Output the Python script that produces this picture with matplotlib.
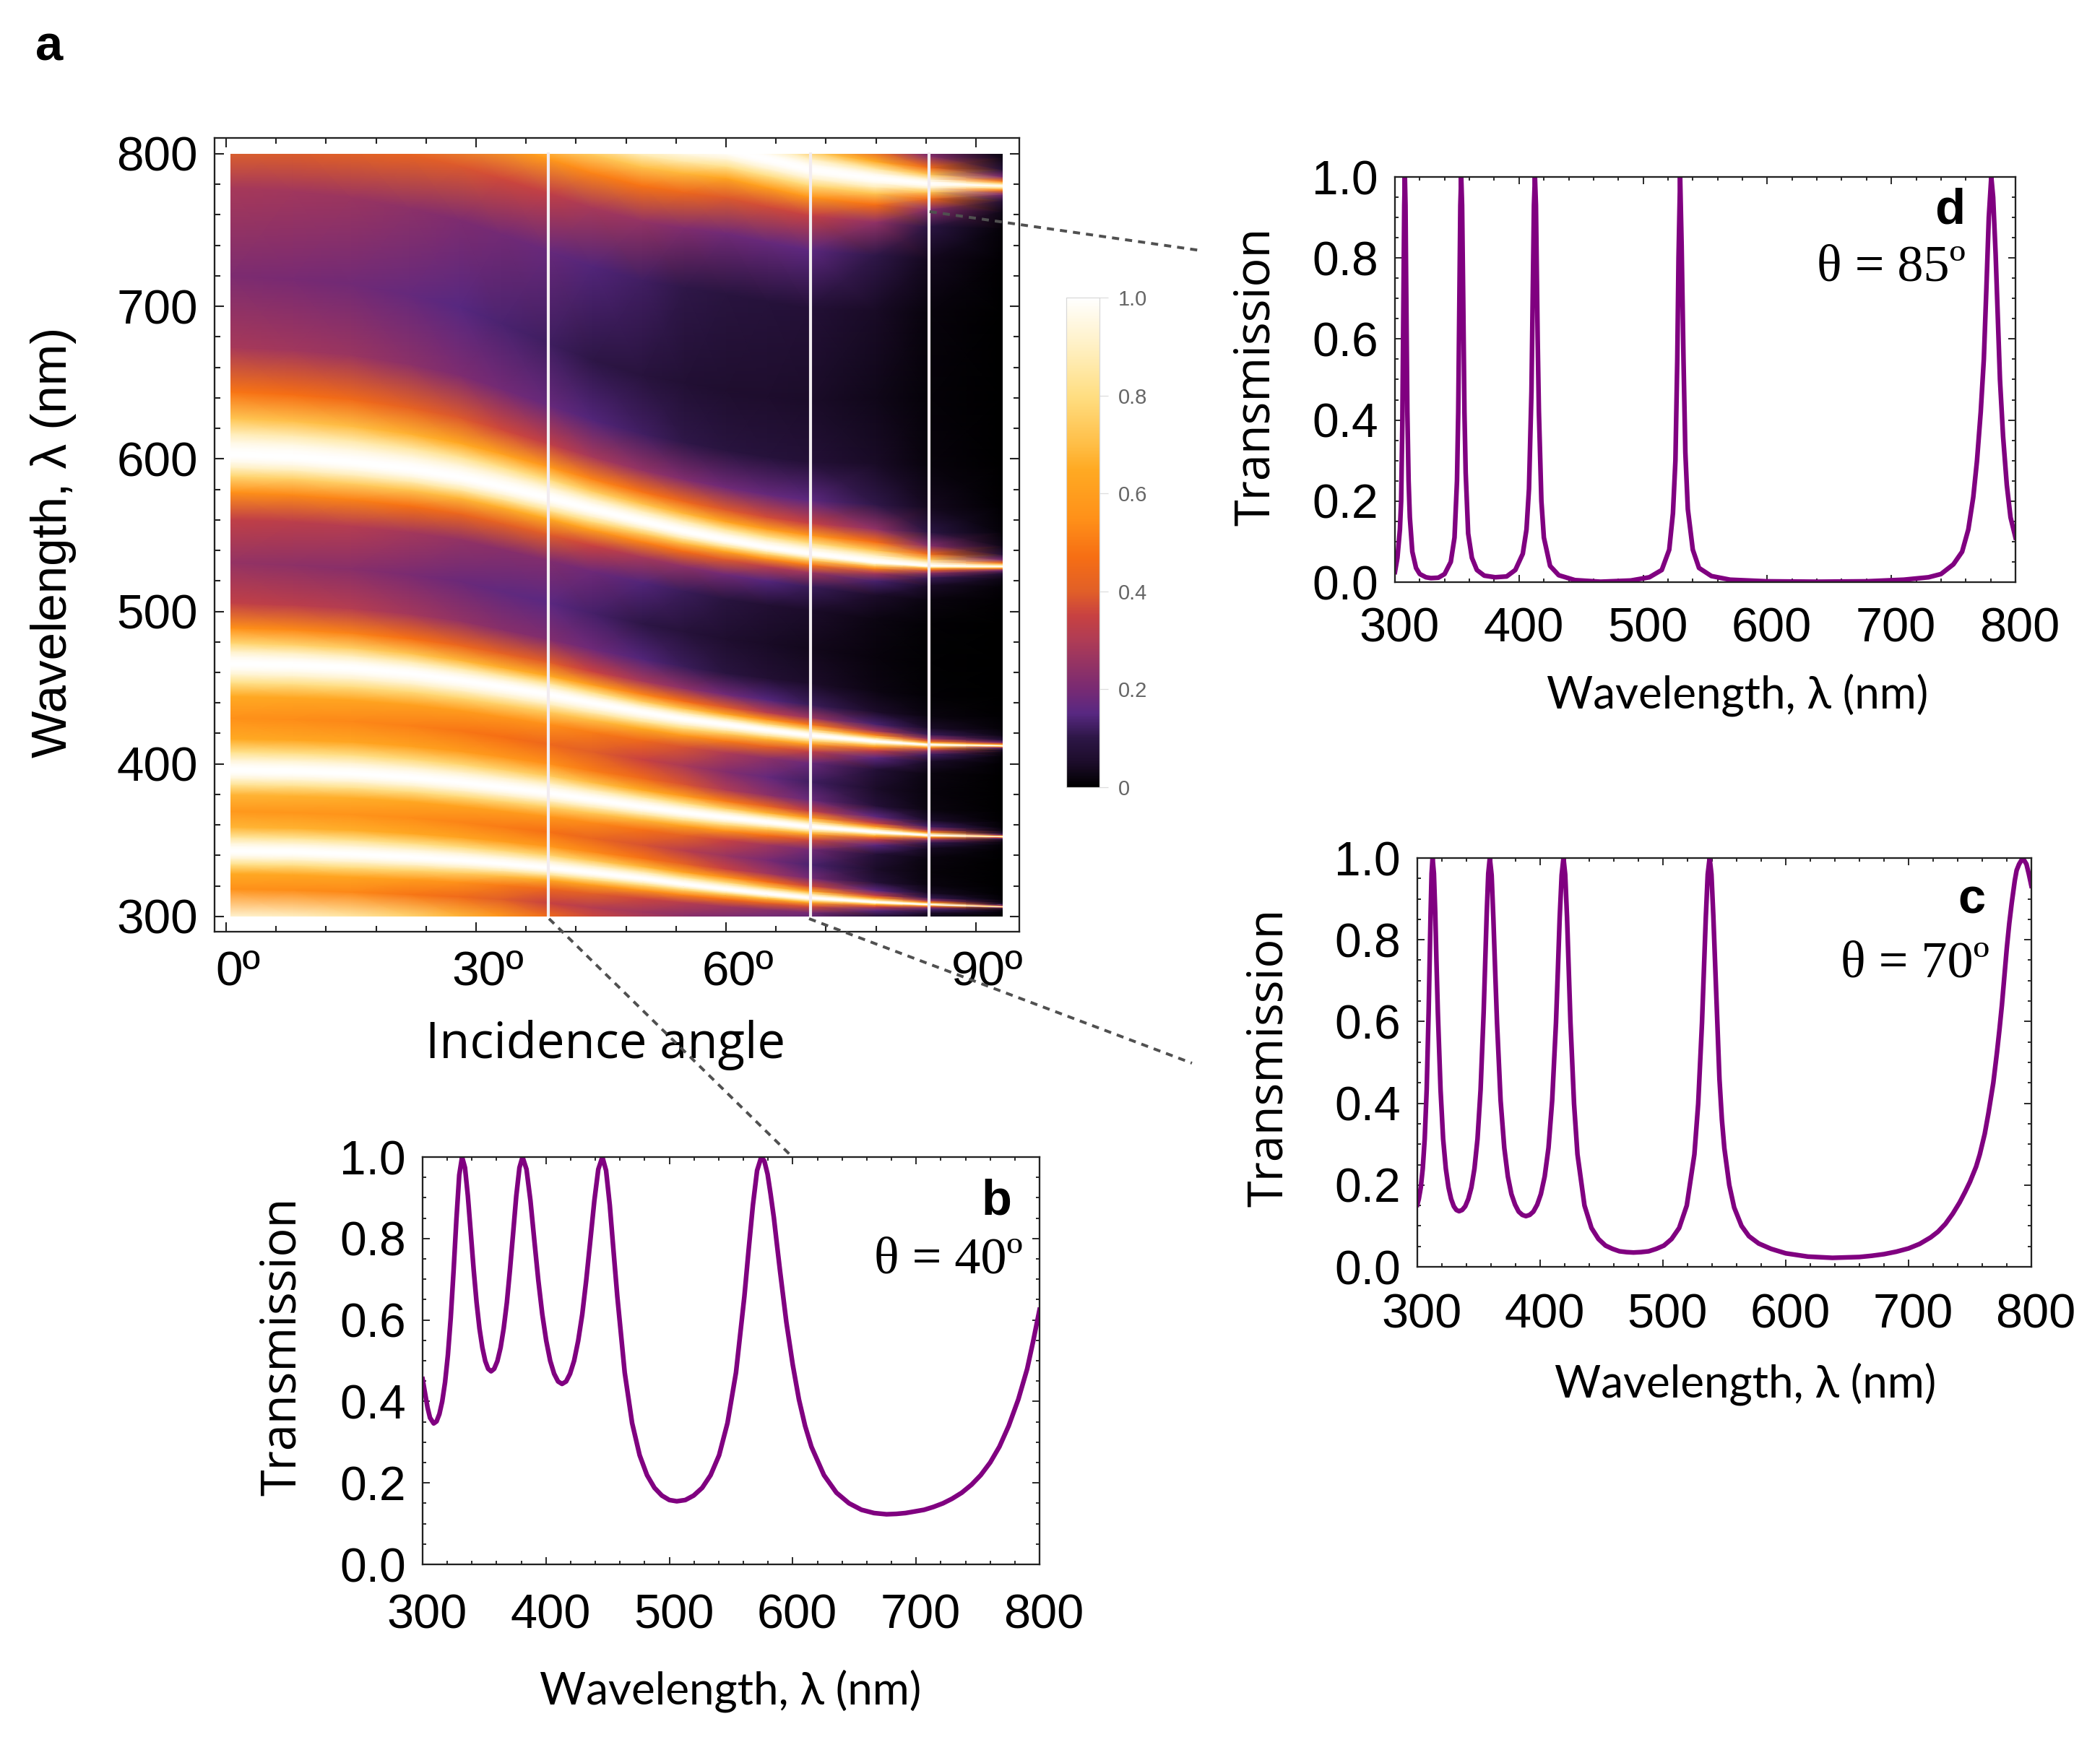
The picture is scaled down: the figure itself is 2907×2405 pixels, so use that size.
import numpy as np
import matplotlib
matplotlib.use("Agg")
import matplotlib.pyplot as plt
from matplotlib.colors import LinearSegmentedColormap
from matplotlib.lines import Line2D
from matplotlib.ticker import MultipleLocator
from matplotlib.transforms import Bbox, ScaledTranslation, TransformedBbox

W, H = 2907, 2405

# ---- panel a, read along the ridges and valleys of the map
angles = [0.5, 8, 15, 22, 28, 33, 38.7, 44, 50, 55, 60, 65, 70, 78, 84.4, 93.2]
peak1 = [343, 342.5, 341, 339, 337, 334.8, 332, 328.8, 325, 321.3, 318, 315, 312.4, 309.5, 308, 306.5]
peak2 = [396, 395.3, 394, 391.3, 388, 384.8, 381, 376.8, 372, 368.2, 365, 362, 359, 355.5, 353.4, 352.5]
peak3 = [466, 465, 463, 459.5, 455, 450.8, 445.7, 440, 434, 429.5, 426, 422.3, 419, 415, 412.8, 412]
peak4 = [603, 601.3, 598, 593.5, 588, 582, 574.5, 567, 559, 552.5, 547, 542, 538, 532.5, 529.8, 529.5]
peak5 = [865, 862, 856, 849, 842, 835, 827, 818, 810, 806, 803, 796.5, 790, 784, 780.5, 779]

edge_wl = [300, 300, 300, 300, 300, 300, 300, 300, 300, 297, 290, 287, 285, 285, 285, 285]
edge_t = [0.92, 0.9, 0.85, 0.77, 0.68, 0.58, 0.455, 0.36, 0.29, 0.27, 0.25, 0.27, 0.3, 0.1, 0.03, 0.0]
valley0_wl = [318, 317.3, 316, 314.5, 313, 311.3, 309, 306, 303, 301, 299, 297.5, 296, 294, 292, 291]
valley0_t = [0.55, 0.54, 0.53, 0.49, 0.45, 0.4, 0.346, 0.31, 0.27, 0.235, 0.2, 0.17, 0.14, 0.05, 0.015, 0.001]
valley1_wl = [369, 368.2, 367, 364.8, 362, 359, 355.5, 351.3, 347, 343.3, 340, 337, 334, 331, 329, 328]
valley1_t = [0.58, 0.57, 0.56, 0.54, 0.52, 0.5, 0.474, 0.43, 0.38, 0.32, 0.26, 0.2, 0.136, 0.05, 0.012, 0.001]
valley2_wl = [430, 429.2, 428, 425.3, 422, 418, 413, 408, 403, 399, 395, 391.5, 388.4, 384, 381, 380]
valley2_t = [0.55, 0.54, 0.53, 0.51, 0.49, 0.47, 0.443, 0.4, 0.35, 0.29, 0.22, 0.17, 0.124, 0.05, 0.014, 0.001]
valley3_wl = [532, 530.5, 528, 524.3, 520, 513.5, 506, 499, 492, 487, 482, 479, 476, 470, 466, 466]
valley3_t = [0.25, 0.24, 0.23, 0.205, 0.18, 0.165, 0.155, 0.13, 0.1, 0.08, 0.06, 0.045, 0.035, 0.015, 0.005, 0.001]
valley4_wl = [720, 718, 715, 708, 700, 689, 676, 665, 655, 650, 645, 641, 638, 640, 640, 640]
valley4_t = [0.21, 0.2, 0.19, 0.17, 0.15, 0.135, 0.123, 0.1, 0.085, 0.07, 0.06, 0.055, 0.05, 0.03, 0.01, 0.001]
valley5_wl = [1050, 1045, 1040, 1030, 1020, 1010, 1000, 995, 990, 985, 980, 970, 960, 940, 930, 930]
valley5_t = [0.21, 0.2, 0.19, 0.18, 0.17, 0.16, 0.15, 0.125, 0.1, 0.085, 0.07, 0.05, 0.035, 0.025, 0.01, 0.001]

# flank of a peak: transmission at a fraction of the way to the valley, per valley depth
flank_pos = [0.01, 0.02, 0.04, 0.07, 0.12, 0.2, 0.35, 0.6]
flank_depth = [0.001, 0.01, 0.03, 0.07, 0.14, 0.25, 0.45, 0.6]
flank_t = [
    [0.80, 0.504, 0.202, 0.076, 0.028, 0.0104, 0.0037, 0.0015],
    [0.976, 0.911, 0.719, 0.455, 0.224, 0.0957, 0.0357, 0.0152],
    [0.992, 0.969, 0.887, 0.719, 0.469, 0.245, 0.102, 0.045],
    [0.997, 0.987, 0.95, 0.861, 0.682, 0.44, 0.216, 0.103],
    [0.998, 0.994, 0.976, 0.931, 0.822, 0.63, 0.373, 0.199],
    [0.999, 0.997, 0.988, 0.965, 0.905, 0.777, 0.55, 0.337],
    [1.0, 0.999, 0.995, 0.985, 0.959, 0.895, 0.75, 0.556],
    [1.0, 0.999, 0.997, 0.992, 0.977, 0.94, 0.846, 0.696],
]

marked_angles = [38.7, 70.1, 84.4]

cbar_levels = [0, 0.05, 0.1, 0.15, 0.2, 0.3, 0.35, 0.4, 0.47, 0.55, 0.65, 0.7, 0.8, 0.9, 1]
cbar_colors = ["#000000", "#1c0c2a", "#2d1646", "#582882", "#782a73", "#af3c55", "#c84141",
               "#e15f28", "#f66e14", "#ff9119", "#ffaa23", "#ffbe46", "#ffde82", "#fff0c3", "#ffffff"]
cbar_ticks = [0, 0.2, 0.4, 0.6, 0.8, 1.0]
cbar_labels = ["0", "0.2", "0.4", "0.6", "0.8", "1.0"]

# ---- panel b, theta = 40
b_wl = [300, 302, 304, 306, 309, 311.3, 313.6, 315.9, 318.2, 320.5, 322.8, 325.1, 327.4, 329.7, 332,
        334.35, 336.7, 339.05, 341.4, 343.75, 346.1, 348.45, 350.8, 353.15, 355.5,
        358, 360.6, 363.2, 365.7, 368.3, 370.8, 373.4, 375.9, 378.5, 381,
        384.2, 387.4, 390.6, 393.8, 397, 400.2, 403.4, 406.6, 409.8, 413,
        416.3, 419.5, 422.8, 426.1, 429.4, 432.6, 435.9, 439.2, 442.4, 445.7,
        448.7, 451.7, 454.7, 457.8, 463.8, 469.8, 475.9, 481.9, 487.9, 493.9, 500, 506,
        512.9, 519.7, 526.6, 533.4, 540.3, 547.1, 554, 560.8, 564.2, 567.7, 571.1, 574.5,
        577, 579.6, 582, 584.7, 587, 589.7, 594.8, 600, 605, 610, 615.1, 625.3, 635.4, 645.6, 655.7, 665.9, 676,
        684, 691.3, 699, 706.5, 714, 721.8, 729, 737, 745, 752.3, 760, 767.5, 775, 782.8, 790, 795, 800]
b_t = [0.455, 0.42, 0.385, 0.36, 0.346, 0.351, 0.369, 0.40, 0.447, 0.514, 0.605, 0.72, 0.847, 0.956, 1,
       0.974, 0.904, 0.814, 0.723, 0.643, 0.579, 0.532, 0.499, 0.48, 0.474,
       0.48, 0.499, 0.532, 0.579, 0.643, 0.723, 0.814, 0.904, 0.974, 1,
       0.970, 0.893, 0.794, 0.697, 0.614, 0.549, 0.50, 0.468, 0.449, 0.443,
       0.449, 0.468, 0.50, 0.549, 0.614, 0.697, 0.794, 0.893, 0.970, 1,
       0.967, 0.882, 0.771, 0.658, 0.471, 0.347, 0.268, 0.219, 0.188, 0.169, 0.158, 0.155,
       0.158, 0.169, 0.188, 0.219, 0.268, 0.347, 0.471, 0.658, 0.771, 0.882, 0.967, 1,
       0.99, 0.958, 0.91, 0.851, 0.79, 0.72, 0.595, 0.49, 0.405, 0.34, 0.289, 0.219, 0.176, 0.15, 0.134, 0.126, 0.123,
       0.124, 0.126, 0.13, 0.134, 0.141, 0.15, 0.161, 0.176, 0.196, 0.219, 0.25, 0.289, 0.34, 0.405, 0.48, 0.55, 0.625]

# ---- panel c, theta = 70
c_wl = [300, 301.2, 302.8, 304.4, 306, 307.6, 309.2, 310, 310.8, 311.6, 312.4,
        313.5, 314.6, 315.6, 316.7, 318.9, 321, 323.2, 325.4, 327.5, 329.7, 331.8, 334,
        336.5, 339, 341.5, 344, 346.5, 349, 351.5, 354, 355.25, 356.5, 357.75, 359,
        360.5, 361.9, 363.4, 364.9, 367.8, 370.8, 373.7, 376.6, 379.6, 382.5, 385.5, 388.4,
        391.5, 394.5, 397.6, 400.6, 403.7, 406.8, 409.8, 412.9, 414.4, 415.9, 417.5, 419,
        420.4, 421.9, 423.3, 424.7, 427.6, 430.4, 436.1, 441.8, 447.5, 453.2, 458.9, 464.6, 470.3, 476,
        482.2, 488.4, 494.6, 500.8, 507, 513.2, 519.4, 525.6, 528.7, 531.8, 533.35, 534.9, 536.45, 538,
        539.5, 541, 542.5, 544, 546, 548, 550, 554, 558, 564, 570, 578, 588, 600, 618, 638,
        660, 670, 680, 690, 700, 709, 718, 724, 730, 736, 741.5, 746, 750, 755, 758, 762, 765, 769, 772, 774, 776, 778, 780,
        782, 784, 786.5, 788, 790, 793, 796, 798, 800]
c_t = [0.152, 0.166, 0.194, 0.24, 0.313, 0.433, 0.623, 0.743, 0.865, 0.962, 1,
       0.962, 0.865, 0.743, 0.623, 0.433, 0.313, 0.24, 0.194, 0.166, 0.148, 0.139, 0.136,
       0.139, 0.148, 0.166, 0.194, 0.24, 0.313, 0.433, 0.623, 0.743, 0.865, 0.962, 1,
       0.958, 0.853, 0.722, 0.597, 0.407, 0.291, 0.221, 0.178, 0.152, 0.135, 0.127, 0.124,
       0.127, 0.135, 0.152, 0.178, 0.221, 0.291, 0.407, 0.597, 0.722, 0.853, 0.958, 1,
       0.96, 0.855, 0.724, 0.597, 0.399, 0.275, 0.15, 0.095, 0.068, 0.052, 0.044, 0.038, 0.036, 0.035,
       0.036, 0.038, 0.044, 0.052, 0.068, 0.095, 0.15, 0.275, 0.399, 0.597, 0.724, 0.855, 0.96, 1,
       0.96, 0.86, 0.74, 0.62, 0.46, 0.36, 0.29, 0.2, 0.145, 0.1, 0.075, 0.057, 0.044, 0.033, 0.025, 0.022,
       0.024, 0.027, 0.031, 0.037, 0.045, 0.056, 0.072, 0.086, 0.105, 0.13, 0.157, 0.183, 0.208, 0.245, 0.275, 0.325, 0.375, 0.45, 0.525, 0.58, 0.64, 0.71, 0.78,
       0.84, 0.89, 0.945, 0.97, 0.985, 1, 0.985, 0.96, 0.932]

# ---- panel d, theta = 85
d_wl = [300, 302, 304, 305, 306, 307, 307.5, 308, 308.5, 309, 310, 311, 312, 314, 317, 320, 325, 329,
        335, 340, 345, 348, 350, 351, 352, 352.7, 353.4, 354.1, 355, 356, 357, 359, 362, 366, 372, 380.8,
        390, 397, 403, 406, 408, 410, 411, 412, 412.8, 413.6, 415, 416, 418, 420, 425, 432, 445, 465.7,
        490, 505, 515, 521, 524, 526, 527.5, 528.5, 529.8, 531, 532.5, 534, 536, 540, 545, 555, 570, 600, 640,
        680, 710, 730, 740, 750, 757, 762, 766, 769, 772, 774.5, 776.5, 778.5, 780.5,
        782, 784, 787.5, 790, 793, 796, 800]
d_t = [0.025, 0.06, 0.13, 0.2, 0.4, 0.75, 0.93, 1, 0.93, 0.75, 0.42, 0.25, 0.16, 0.075, 0.035, 0.02, 0.012, 0.01,
       0.011, 0.02, 0.05, 0.11, 0.25, 0.42, 0.72, 0.93, 1, 0.93, 0.7, 0.42, 0.27, 0.12, 0.06, 0.03, 0.016, 0.012,
       0.014, 0.03, 0.07, 0.13, 0.23, 0.47, 0.7, 0.93, 1, 0.93, 0.6, 0.42, 0.2, 0.11, 0.04, 0.017, 0.005, 0.001,
       0.004, 0.012, 0.03, 0.08, 0.17, 0.3, 0.55, 0.8, 1, 0.83, 0.55, 0.32, 0.18, 0.08, 0.035, 0.015, 0.006, 0.002, 0.001,
       0.002, 0.006, 0.012, 0.02, 0.044, 0.075, 0.13, 0.21, 0.3, 0.42, 0.55, 0.72, 0.9, 1,
       0.95, 0.81, 0.5, 0.36, 0.24, 0.16, 0.11]

inset_xticks = [300, 400, 500, 600, 700, 800]
inset_yticks = [0.0, 0.2, 0.4, 0.6, 0.8, 1.0]


def px_axes(x0, y0, x1, y1):
    return fig.add_axes([x0 / W, 1 - y1 / H, (x1 - x0) / W, (y1 - y0) / H])


def px_text(x, y, s, **kw):
    kw.setdefault("ha", "center")
    kw.setdefault("va", "center")
    fig.text(x / W, 1 - y / H, s, **kw)


def px_dash(x0, y0, x1, y1):
    fig.add_artist(Line2D([x0 / W, x1 / W], [1 - y0 / H, 1 - y1 / H], color="#505050", lw=0.95,
                          dashes=(2.5, 2.1), transform=fig.transFigure, zorder=5))


def nudge_xlabels(ax, dx):
    shift = ScaledTranslation(dx / 300, 0, fig.dpi_scale_trans)
    for lab in ax.get_xticklabels():
        lab.set_transform(lab.get_transform() + shift)


def flank(depth):
    rows = np.array(flank_t)
    return [np.interp(depth, flank_depth, rows[:, i]) for i in range(len(flank_pos))]


def build_map():
    peaks = [np.array(p, float) for p in [peak1, peak2, peak3, peak4, peak5]]
    vwl = [np.array(v, float) for v in [valley0_wl, valley1_wl, valley2_wl, valley3_wl, valley4_wl, valley5_wl]]
    vt = [np.array(v, float) for v in [valley0_t, valley1_t, valley2_t, valley3_t, valley4_t, valley5_t]]
    ys = [np.array(edge_wl, float), vwl[0]]
    cs = [np.array(edge_t, float), vt[0]]
    for k, p in enumerate(peaks):
        low = flank(vt[k])
        high = flank(vt[k + 1])
        for i in reversed(range(len(flank_pos))):
            ys.append(p - flank_pos[i] * (p - vwl[k]))
            cs.append(low[i])
        ys.append(p)
        cs.append(np.ones_like(p))
        for i in range(len(flank_pos)):
            ys.append(p + flank_pos[i] * (vwl[k + 1] - p))
            cs.append(high[i])
        ys.append(vwl[k + 1])
        cs.append(vt[k + 1])
    ys = np.array(ys)
    xs = np.tile(np.array(angles), (ys.shape[0], 1))
    return xs, ys, np.array(cs)


def inset(box, wl, t, xpad):
    ax = px_axes(*box)
    ax.plot(wl, t, color="#800080", lw=1.55, solid_joinstyle="round")
    ax.set_xlim(300, 800)
    ax.set_ylim(0, 1)
    ax.set_xticks(inset_xticks)
    ax.set_yticks(inset_yticks)
    ax.set_yticklabels(["%.1f" % v for v in inset_yticks])
    ax.xaxis.set_minor_locator(MultipleLocator(20))
    ax.yaxis.set_minor_locator(MultipleLocator(0.05))
    ax.tick_params(which="both", direction="in", top=True, right=True, width=0.45, color="#222222")
    ax.tick_params(which="major", length=2.4)
    ax.tick_params(which="minor", length=1.3)
    ax.tick_params(axis="y", which="major", labelsize=15.8, pad=5.5)
    ax.tick_params(axis="x", which="major", labelsize=16, pad=xpad)
    for s in ax.spines.values():
        s.set_linewidth(0.55)
        s.set_color("#222222")
    nudge_xlabels(ax, 6)
    return ax


plt.rcParams["font.family"] = ["Liberation Sans", "DejaVu Sans"]
fig = plt.figure(figsize=(W / 300, H / 300), dpi=300)
cmap = LinearSegmentedColormap.from_list("sunset", list(zip(cbar_levels, cbar_colors)), N=512)

# panel a
ax = px_axes(297, 191, 1411, 1290)
xs, ys, cs = build_map()
mesh = ax.pcolormesh(xs, ys, cs, shading="gouraud", cmap=cmap, vmin=0, vmax=1)
mesh.set_clip_box(TransformedBbox(Bbox([[0.5, 300], [93.2, 800]]), ax.transData))
for a in marked_angles:
    ax.plot([a, a], [300, 801], color="#f2ecf0", lw=1.0, solid_capstyle="butt")
ax.set_xlim(-1.39, 95.2)
ax.set_ylim(290, 810.4)
ax.set_xticks([0, 30, 60, 90])
ax.set_xticklabels(["0º", "30º", "60º", "90º"])
ax.set_yticks([300, 400, 500, 600, 700, 800])
ax.xaxis.set_minor_locator(MultipleLocator(6))
ax.yaxis.set_minor_locator(MultipleLocator(20))
ax.tick_params(which="both", direction="in", top=True, right=True, width=0.5, color="#222222")
ax.tick_params(which="major", length=3.2, labelsize=16.2, pad=5.5)
ax.tick_params(axis="x", which="major", pad=6.2)
ax.tick_params(which="minor", length=1.9)
nudge_xlabels(ax, 16)
for s in ax.spines.values():
    s.set_linewidth(0.55)
    s.set_color("#222222")

# colour bar
cax = px_axes(1476, 412, 1522, 1090)
cb = fig.colorbar(mesh, cax=cax, ticks=cbar_ticks)
cb.set_ticklabels(cbar_labels)
cb.outline.set_linewidth(0.3)
cb.outline.set_edgecolor("#d8d8d8")
cax.tick_params(length=2.9, width=0.3, color="#dddddd", labelsize=7, labelcolor="#666666", pad=3.4)

inset((585, 1602, 1439, 2166), b_wl, b_t, 9.6)
inset((1962, 1188, 2812, 1754), c_wl, c_t, 8.8)
inset((1931, 245, 2790, 806), d_wl, d_t, 8.2)

# connectors
px_dash(760, 1272, 1097, 1602)
px_dash(1120, 1272, 1650, 1472)
px_dash(1287, 293, 1663, 347)

# labels
px_text(68, 65, "a", fontsize=16.5, fontweight="bold")
px_text(74, 751, "Wavelength, λ (nm)", fontsize=16.6, rotation=90)
px_text(838, 1447, "Incidence angle", fontsize=16.5, family="Open Sans")

for (tx, ty), (wx, wy) in [((391, 1864), (1011, 2341)), ((1757, 1464), (2416, 1916)), ((1739, 521), (2405, 962))]:
    px_text(tx, ty, "Transmission", fontsize=16, family="Open Sans", rotation=90)
    px_text(wx, wy, "Wavelength, λ (nm)", fontsize=14.9, family="Lato")

serif = dict(fontsize=17.3, family="Liberation Serif")
bold = dict(fontsize=16.5, fontweight="bold")
px_text(1380, 1663, "b", **bold)
px_text(1313, 1745, "θ = 40º", **serif)
px_text(2729, 1246, "c", **bold)
px_text(2651, 1335, "θ = 70º", **serif)
px_text(2699, 291, "d", **bold)
px_text(2618, 371, "θ = 85º", **serif)

fig.savefig("out.png", dpi=300)
